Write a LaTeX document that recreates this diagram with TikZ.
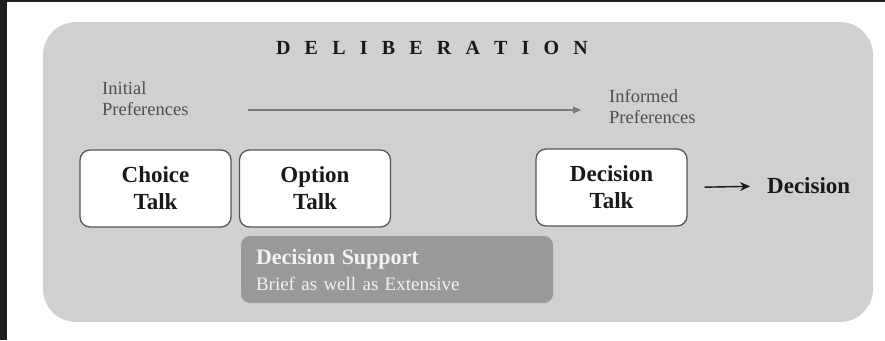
\documentclass[tikz,border=0pt]{standalone}
\usepackage{fontspec}
\setmainfont{Liberation Serif}
\usetikzlibrary{arrows.meta}
\definecolor{bggrey}{HTML}{CFD0CF}
\definecolor{frame}{HTML}{1E1E1E}
\definecolor{boxedge}{HTML}{555555}
\definecolor{supfill}{HTML}{999999}
\definecolor{suptext}{HTML}{F2F2F2}
\definecolor{softtext}{HTML}{505050}
\definecolor{arrowgrey}{HTML}{7A7A7A}
\newcommand\lsp{\hspace{14.2pt}}
\tikzset{
  talkbox/.style={draw=boxedge, line width=1.3pt, fill=white, rounded corners=10pt,
    minimum width=151pt, minimum height=77pt, align=center, inner sep=0pt,
    font=\fontsize{23}{27}\selectfont\bfseries, text=black!90},
  prefs/.style={align=left, anchor=west, inner sep=0pt, text=softtext,
    font=\fontsize{18.5}{21}\selectfont},
  supbox/.style={fill=supfill, rounded corners=9pt, minimum width=312pt, minimum height=67pt,
    text width=282pt, align=left, inner sep=0pt, text=suptext,
    font=\fontsize{19}{26}\selectfont},
}
\begin{document}
\begin{tikzpicture}[x=1pt,y=-1pt]
\useasboundingbox (0,0) rectangle (885,340);
\fill[white] (0,0) rectangle (885,340);
\fill[frame] (0,0) rectangle (7,340);
\fill[frame] (0,0) rectangle (885,2);
% background
\fill[bggrey, rounded corners=33pt] (43,22) rectangle (873,322);
% title
\node[inner sep=0pt, font=\fontsize{20}{20}\selectfont\bfseries, text=black!90] (title) at (432,48)
  {D\lsp E\lsp L\lsp I\lsp B\lsp E\lsp R\lsp A\lsp T\lsp I\lsp O\lsp N};
% preferences
\node[prefs] (init) at (102,98.5) {Initial\\Preferences};
\node[prefs] (informed) at (609,106.5) {Informed\\Preferences};
\coordinate (pa) at (248,110);
\coordinate (pb) at (581,110);
\draw[arrowgrey, line width=1.1pt, -{Triangle[length=8pt,width=7pt]}] (pa) -- (pb);
% talk boxes
\node[talkbox] (choice) at (155.5,188.5) {Choice\\Talk};
\node[talkbox] (option) at (315,188.5) {Option\\Talk};
\node[talkbox] (dtalk) at (611.5,187.5) {Decision\\Talk};
\node[inner sep=0pt, anchor=west, font=\fontsize{23}{27}\selectfont\bfseries, text=black!90] (decision) at (767,186) {Decision};
\draw[black!90, line width=1.4pt, -{Stealth[length=10pt,width=9pt]}, shorten <=17pt, shorten >=17pt] (dtalk.east) -- (decision.west);
% decision support
\node[supbox] (support) at (397,269.5)
  {{\fontsize{22}{26}\selectfont\bfseries Decision Support}\\
   Brief as well as Extensive};
\end{tikzpicture}
\end{document}
